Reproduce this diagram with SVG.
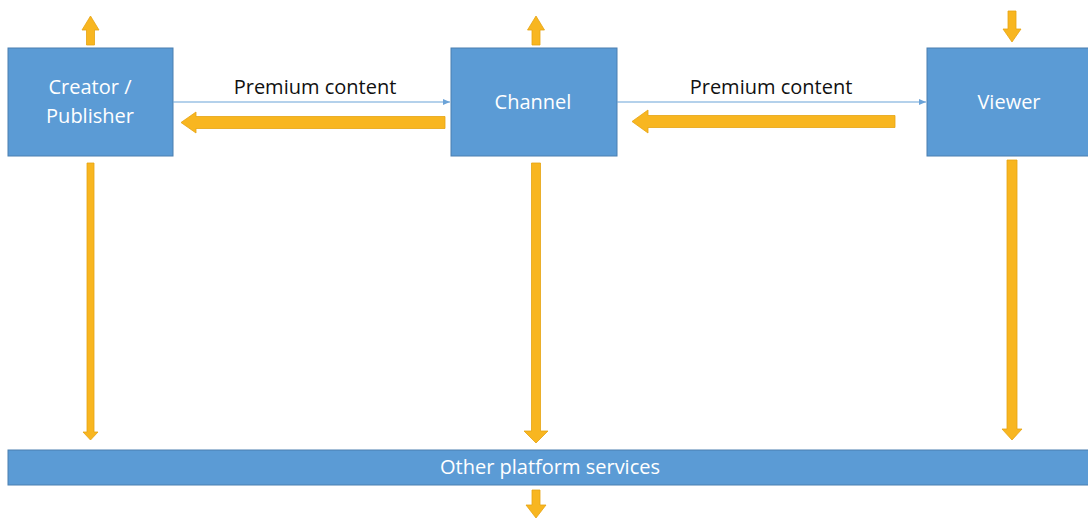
<svg xmlns="http://www.w3.org/2000/svg" width="1088" height="518" viewBox="0 0 1088 518">
<style>
.box{fill:#5b9bd5;stroke:#4a7fb0;stroke-width:1}
.bt{font-family:"Open Sans","Liberation Sans",Arial,sans-serif;font-size:20px;fill:#ffffff;text-anchor:middle}
.lbl{font-family:"Open Sans","Liberation Sans",Arial,sans-serif;font-size:20px;fill:#111111;text-anchor:middle}
.ora{fill:#f8b620;stroke:#e6a312;stroke-width:0.8}
.thin{stroke:#6ba3d8;stroke-width:1.2;fill:none}
</style>
<defs>
<marker id="ah" markerWidth="8" markerHeight="8" refX="7" refY="4" orient="auto" markerUnits="userSpaceOnUse">
<path d="M0,1 L7,4 L0,7 z" fill="#6ba3d8"/>
</marker>
</defs>
<g id="creator">
<rect class="box" x="8" y="48" width="165" height="108"/>
<text class="bt" x="90" y="94">Creator /</text>
<text class="bt" x="90" y="123">Publisher</text>
</g>
<g id="channel">
<rect class="box" x="451" y="48" width="166" height="108"/>
<text class="bt" x="533" y="109">Channel</text>
</g>
<g id="viewer">
<rect class="box" x="927" y="48" width="170" height="108"/>
<text class="bt" x="1009" y="109">Viewer</text>
</g>
<g id="services">
<rect class="box" x="8" y="450" width="1090" height="35"/>
<text class="bt" x="550" y="474">Other platform services</text>
</g>
<g id="connectors">
<line class="thin" x1="173" y1="102" x2="450" y2="102" marker-end="url(#ah)"/>
<text class="lbl" x="315" y="94">Premium content</text>
<line class="thin" x1="617" y1="102" x2="926" y2="102" marker-end="url(#ah)"/>
<text class="lbl" x="771" y="94">Premium content</text>
<path class="ora" d="M445,116.5 L196,116.5 L196,112 L181,122.5 L196,133 L196,128.5 L445,128.5 z"/>
<path class="ora" d="M895,115.5 L648,115.5 L648,110 L632,121.5 L648,133 L648,127.5 L895,127.5 z"/>
<path class="ora" d="M86.5,45 L86.5,30 L82,30 L90.5,16 L99,30 L94.5,30 L94.5,45 z"/>
<path class="ora" d="M532,45 L532,30 L527.5,30 L536,16 L544.5,30 L540,30 L540,45 z"/>
<path class="ora" d="M1008,11 L1008,29 L1003,29 L1012,42 L1021,29 L1016,29 L1016,11 z"/>
<path class="ora" d="M87,163 L87,432 L83,432 L90.5,440 L98,432 L94,432 L94,163 z"/>
<path class="ora" d="M531.5,163 L531.5,431 L524,431 L536,443 L548,431 L540.5,431 L540.5,163 z"/>
<path class="ora" d="M1007,160 L1007,429 L1002,429 L1012,440 L1022,429 L1017,429 L1017,160 z"/>
<path class="ora" d="M532,490 L532,505 L526,505 L536,518 L546,505 L540,505 L540,490 z"/>
</g>
</svg>
